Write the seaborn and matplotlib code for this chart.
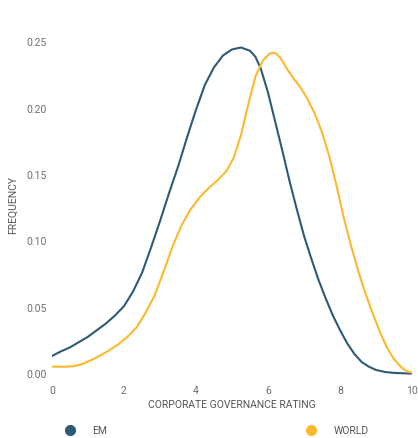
import pandas as pd
import matplotlib.pyplot as plt
import seaborn as sns
from matplotlib.lines import Line2D

# Values
em_rating = [0, 0.25, 0.5, 0.75, 1.0, 1.25, 1.5, 1.75, 2.0, 2.25, 2.5, 2.75, 3.0, 3.25,
             3.5, 3.75, 4.0, 4.25, 4.5, 4.75, 5.0, 5.25, 5.5, 5.65, 5.8, 6.0, 6.2, 6.4,
             6.6, 6.8, 7.0, 7.2, 7.4, 7.6, 7.8, 8.0, 8.2, 8.4, 8.6, 8.8, 9.0, 9.25,
             9.5, 10]
em_freq = [0.0135, 0.017, 0.020, 0.024, 0.028, 0.033, 0.038, 0.044, 0.051, 0.062,
           0.076, 0.095, 0.115, 0.136, 0.156, 0.178, 0.199, 0.218, 0.231, 0.240,
           0.2445, 0.246, 0.2435, 0.239, 0.230, 0.212, 0.190, 0.168, 0.145, 0.124,
           0.104, 0.087, 0.071, 0.057, 0.044, 0.033, 0.023, 0.015, 0.009, 0.0055,
           0.003, 0.0015, 0.0008, 0.0003]

world_rating = [0, 0.3, 0.6, 0.85, 1.1, 1.35, 1.6, 1.85, 2.1, 2.35, 2.6, 2.85, 3.1,
                3.35, 3.6, 3.85, 4.1, 4.35, 4.6, 4.85, 5.05, 5.25, 5.45, 5.65, 5.85,
                6.05, 6.2, 6.35, 6.5, 6.7, 6.9, 7.1, 7.3, 7.5, 7.7, 7.9, 8.1, 8.3,
                8.5, 8.7, 8.9, 9.1, 9.3, 9.5, 9.7, 9.85, 10]
world_freq = [0.0055, 0.0055, 0.0058, 0.0075, 0.0105, 0.014, 0.018, 0.0225, 0.028,
              0.035, 0.046, 0.059, 0.077, 0.096, 0.112, 0.124, 0.133, 0.140, 0.146,
              0.153, 0.163, 0.180, 0.203, 0.224, 0.236, 0.2415, 0.242, 0.238, 0.231,
              0.223, 0.216, 0.207, 0.196, 0.182, 0.164, 0.142, 0.118, 0.097, 0.078,
              0.061, 0.046, 0.032, 0.020, 0.011, 0.005, 0.002, 0.001]

series_names = ["EM", "WORLD"]
colors = {"EM": "#2f5a75", "WORLD": "#fdb92e"}

df = pd.concat([
    pd.DataFrame({"rating": em_rating, "freq": em_freq, "series": "EM"}),
    pd.DataFrame({"rating": world_rating, "freq": world_freq, "series": "WORLD"}),
], ignore_index=True)

sns.set_style("white")
plt.rcParams["font.family"] = ["Roboto", "DejaVu Sans"]

fig = plt.figure(figsize=(4.18, 4.38), dpi=100)
ax = fig.add_axes([0.124, 0.131, 0.862, 0.803])

sns.lineplot(data=df, x="rating", y="freq", hue="series", palette=colors,
             linewidth=1.5, legend=False, ax=ax, sort=True)

ax.set_xlim(0, 10)
ax.set_ylim(-0.005, 0.26)
ax.set_xticks([0, 2, 4, 6, 8, 10])
ax.set_yticks([0, 0.05, 0.10, 0.15, 0.20, 0.25])
ax.set_yticklabels([f"{v:.2f}" for v in [0, 0.05, 0.10, 0.15, 0.20, 0.25]])
ax.tick_params(length=0, labelsize=7.5, colors="#6f6f6f", pad=4)
sns.despine(ax=ax, left=True, bottom=True)

ax.set_xlabel("CORPORATE GOVERNANCE RATING", fontsize=7.5, color="#555555", labelpad=3)
ax.set_ylabel("FREQUENCY", fontsize=7.5, color="#555555", labelpad=6)

handles = [Line2D([], [], marker="o", linestyle="", markersize=7,
                  color=colors[name]) for name in series_names]
fig.legend(handles, series_names, loc="center", bbox_to_anchor=(0.512, 0.016),
           ncol=2, frameon=False, fontsize=7.5, labelcolor="#555555",
           columnspacing=18.5, handletextpad=1.2)

fig.savefig("out.png", dpi=100)
